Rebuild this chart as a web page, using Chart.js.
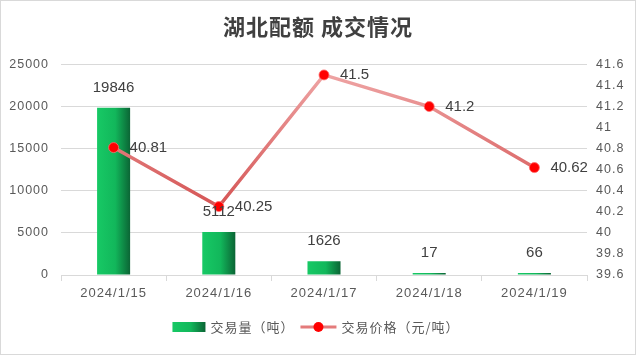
<!DOCTYPE html>
<html>
<head>
<meta charset="utf-8">
<script src="https://cdn.jsdelivr.net/npm/chart.js@4"></script>
<style>
  html, body { margin: 0; padding: 0; background: #fff; }
  #wrap { width: 636px; height: 355px; }
</style>
</head>
<body>
<div id="wrap"><canvas id="chart" width="636" height="355"></canvas></div>
<script>
// data
const dates = ['2024/1/15', '2024/1/16', '2024/1/17', '2024/1/18', '2024/1/19'];
const volumes = [19846, 5112, 1626, 17, 66];
const prices = [40.81, 40.25, 41.5, 41.2, 40.62];
const volumeTicks = [0, 5000, 10000, 15000, 20000, 25000];
const priceTicks = [39.6, 39.8, 40, 40.2, 40.4, 40.6, 40.8, 41, 41.2, 41.4, 41.6];
const seriesNames = ['交易量（吨）', '交易价格（元/吨）'];

const FONT = '"Liberation Sans", Arial, sans-serif';
const CJK = '"Noto Sans CJK SC", sans-serif';

function greenGradient(c, x0, w) {
  const g = c.createLinearGradient(x0, 0, x0 + w, 0);
  g.addColorStop(0, '#17c965');
  g.addColorStop(0.55, '#12b75b');
  g.addColorStop(1, '#0b6535');
  return g;
}

// bar fill: left-to-right green gradient per bar
function barFill(ctx) {
  const el = ctx.chart.getDatasetMeta(0).data[ctx.dataIndex];
  if (!el || !el.width) return '#17c965';
  return greenGradient(ctx.chart.ctx, el.x - el.width / 2, el.width);
}

// line stroke: lighter at the top, darker at the bottom
function lineStroke(ctx) {
  const y = ctx.chart.scales && ctx.chart.scales.y2;
  if (!y || !ctx.chart.chartArea) return '#e07070';
  const g = ctx.chart.ctx.createLinearGradient(0, y.getPixelForValue(41.5), 0, y.getPixelForValue(40.25));
  g.addColorStop(0, '#eea3a3');
  g.addColorStop(1, '#d55555');
  return g;
}

const frame = {
  id: 'frame',
  beforeDraw(chart) {
    const c = chart.ctx;
    c.save();
    c.fillStyle = '#fff';
    c.fillRect(0, 0, chart.width, chart.height);
    c.strokeStyle = '#d9d9d9';
    c.lineWidth = 1;
    c.strokeRect(0.5, 0.5, chart.width - 1, chart.height - 1);
    c.restore();
    c.letterSpacing = '1px';
  }
};

const valueLabels = {
  id: 'valueLabels',
  afterDatasetsDraw(chart) {
    const c = chart.ctx;
    c.save();
    c.letterSpacing = '0px';
    c.font = '15px ' + FONT;
    c.fillStyle = '#404040';
    c.textBaseline = 'middle';
    c.textAlign = 'center';
    chart.getDatasetMeta(0).data.forEach((el, i) => {
      c.fillText(String(volumes[i]), el.x, el.y - 20);
    });
    c.textAlign = 'left';
    chart.getDatasetMeta(1).data.forEach((el, i) => {
      c.fillText(String(prices[i]), el.x + 16, el.y);
    });
    c.restore();
  }
};

const legendBox = {
  id: 'legendBox',
  afterDraw(chart) {
    const c = chart.ctx;
    c.save();
    c.letterSpacing = '1px';
    c.font = '13px ' + CJK;
    c.fillStyle = '#595959';
    c.textBaseline = 'middle';
    const cy = 327;
    const w1 = c.measureText(seriesNames[0]).width;
    const w2 = c.measureText(seriesNames[1]).width;
    const total = 33 + 5 + w1 + 6 + 36 + 5 + w2;
    let x = 316 - total / 2;
    // bar icon
    c.fillStyle = greenGradient(c, x, 33);
    c.fillRect(x, cy - 5, 33, 10);
    x += 38;
    c.fillStyle = '#595959';
    c.textAlign = 'left';
    c.fillText(seriesNames[0], x, cy);
    x += w1 + 6;
    // line icon
    c.strokeStyle = '#e47b7b';
    c.lineWidth = 3;
    c.beginPath();
    c.moveTo(x, cy);
    c.lineTo(x + 36, cy);
    c.stroke();
    c.fillStyle = '#ff0000';
    c.beginPath();
    c.arc(x + 18, cy, 5, 0, Math.PI * 2);
    c.fill();
    x += 41;
    c.fillStyle = '#595959';
    c.fillText(seriesNames[1], x, cy);
    c.restore();
  }
};

const chart = new Chart(document.getElementById('chart'), {
  data: {
    labels: dates,
    datasets: [{
      type: 'bar',
      label: seriesNames[0],
      data: volumes,
      yAxisID: 'y',
      backgroundColor: barFill,
      barPercentage: 0.314,
      categoryPercentage: 1,
      minBarLength: 2,
      order: 1
    }, {
      type: 'line',
      label: seriesNames[1],
      data: prices,
      yAxisID: 'y2',
      borderColor: lineStroke,
      borderWidth: 3.5,
      pointRadius: 5,
      pointBackgroundColor: '#ff0000',
      pointBorderColor: 'rgba(255,110,110,0.8)',
      pointBorderWidth: 1,
      tension: 0,
      order: 0
    }]
  },
  options: {
    responsive: false,
    animation: false,
    layout: { padding: { top: 0, left: 0, right: 0, bottom: 40 } },
    plugins: {
      legend: { display: false },
      tooltip: { enabled: false },
      title: {
        display: true,
        text: '湖北配额 成交情况',
        color: '#404040',
        font: { family: CJK, size: 22, weight: 'bold' },
        padding: { top: 13, bottom: 25 }
      }
    },
    scales: {
      x: {
        offset: true,
        grid: { offset: true, drawOnChartArea: false, drawTicks: true, tickLength: 6, color: '#d9d9d9' },
        border: { display: true, color: '#d9d9d9' },
        ticks: { color: '#595959', font: { family: FONT, size: 13 }, padding: 5, maxRotation: 0 },
        afterFit(s) { s.height = 40; }
      },
      y: {
        position: 'left',
        min: 0,
        max: 25000,
        afterBuildTicks(s) { s.ticks = volumeTicks.map(v => ({ value: v })); },
        grid: { color: '#d9d9d9', drawTicks: false },
        border: { display: false },
        ticks: { color: '#595959', font: { family: FONT, size: 12.5 }, padding: 12, callback: v => String(v) },
        afterFit(s) { s.width = 61; }
      },
      y2: {
        position: 'right',
        min: 39.6,
        max: 41.6,
        afterBuildTicks(s) { s.ticks = priceTicks.map(v => ({ value: v })); },
        grid: { drawOnChartArea: false, drawTicks: false },
        border: { display: false },
        ticks: { color: '#595959', font: { family: FONT, size: 12.5 }, padding: 9, callback: v => String(v) },
        afterFit(s) { s.width = 49; }
      }
    }
  },
  plugins: [frame, valueLabels, legendBox]
});
chart.update();
</script>
</body>
</html>
